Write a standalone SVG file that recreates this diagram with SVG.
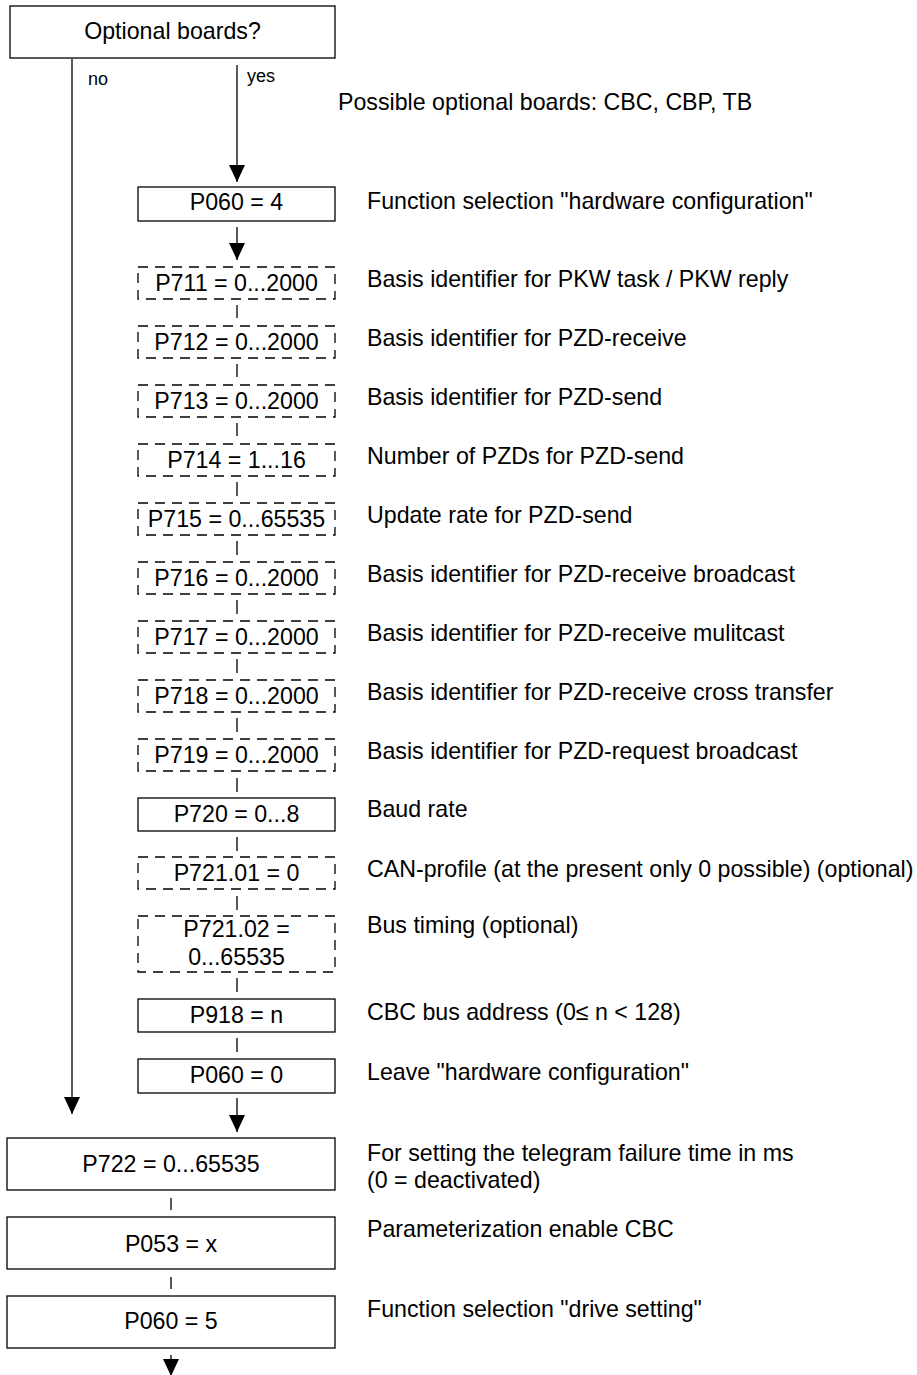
<svg xmlns="http://www.w3.org/2000/svg" width="917" height="1375" viewBox="0 0 917 1375">
<style>
.b{fill:#fff;stroke:#000;stroke-width:1.3}
.d{fill:#fff;stroke:#000;stroke-width:1.3;stroke-dasharray:10 7}
.t{font-family:"Liberation Sans",Arial,sans-serif;font-size:23.2px;fill:#000}
.c{text-anchor:middle}
.s{font-size:18px}
.cn line{stroke:#000;stroke-width:1.3;fill:none}
.ar{marker-end:url(#ah)}
</style>
<defs>
<marker id="ah" markerUnits="userSpaceOnUse" markerWidth="17" markerHeight="16" refX="17" refY="8" orient="auto" viewBox="0 0 17 16">
<path d="M0,0 L17,8 L0,16 Z" fill="#000"/>
</marker>
</defs>
<rect width="917" height="1375" fill="#fff"/>
<g id="connectors" class="cn">
<line class="ar" x1="72" y1="59" x2="72" y2="1114"/>
<line class="ar" x1="237" y1="65" x2="237" y2="182"/>
<line class="ar" x1="237" y1="227" x2="237" y2="260"/>
<line x1="237" y1="305" x2="237" y2="318"/>
<line x1="237" y1="364" x2="237" y2="377"/>
<line x1="237" y1="423" x2="237" y2="436"/>
<line x1="237" y1="482" x2="237" y2="496"/>
<line x1="237" y1="541" x2="237" y2="555"/>
<line x1="237" y1="600" x2="237" y2="614"/>
<line x1="237" y1="659" x2="237" y2="673"/>
<line x1="237" y1="718" x2="237" y2="732"/>
<line x1="237" y1="778" x2="237" y2="792"/>
<line x1="237" y1="837" x2="237" y2="851"/>
<line x1="237" y1="896" x2="237" y2="910"/>
<line x1="237" y1="978" x2="237" y2="992"/>
<line x1="237" y1="1038" x2="237" y2="1052"/>
<line class="ar" x1="237" y1="1098" x2="237" y2="1132"/>
<line x1="171" y1="1198" x2="171" y2="1210"/>
<line x1="171" y1="1277" x2="171" y2="1289"/>
<line class="ar" x1="171" y1="1355" x2="171" y2="1376"/>
</g>
<g id="n_optional">
<rect class="b" x="10" y="6" width="325" height="52"/>
<text class="t c" x="172.5" y="39">Optional boards?</text>
</g>
<g id="labels">
<text class="t s" x="88" y="85">no</text>
<text class="t s" x="247" y="82">yes</text>
<text class="t" x="338" y="110">Possible optional boards: CBC, CBP, TB</text>
</g>
<g id="n_p060_4">
<rect class="b" x="138" y="187" width="197" height="34"/>
<text class="t c" x="236.5" y="210">P060 = 4</text>
<text class="t" x="367" y="209">Function selection "hardware configuration"</text>
</g>
<g id="n_p711">
<rect class="d" x="138" y="267" width="197" height="32"/>
<text class="t c" x="236.5" y="291">P711 = 0...2000</text>
<text class="t" x="367" y="287">Basis identifier for PKW task / PKW reply</text>
</g>
<g id="n_p712">
<rect class="d" x="138" y="326" width="197" height="32"/>
<text class="t c" x="236.5" y="350">P712 = 0...2000</text>
<text class="t" x="367" y="346">Basis identifier for PZD-receive</text>
</g>
<g id="n_p713">
<rect class="d" x="138" y="385" width="197" height="32"/>
<text class="t c" x="236.5" y="409">P713 = 0...2000</text>
<text class="t" x="367" y="405">Basis identifier for PZD-send</text>
</g>
<g id="n_p714">
<rect class="d" x="138" y="444" width="197" height="32"/>
<text class="t c" x="236.5" y="468">P714 = 1...16</text>
<text class="t" x="367" y="464">Number of PZDs for PZD-send</text>
</g>
<g id="n_p715">
<rect class="d" x="138" y="503" width="197" height="32"/>
<text class="t c" x="236.5" y="527">P715 = 0...65535</text>
<text class="t" x="367" y="523">Update rate for PZD-send</text>
</g>
<g id="n_p716">
<rect class="d" x="138" y="562" width="197" height="32"/>
<text class="t c" x="236.5" y="586">P716 = 0...2000</text>
<text class="t" x="367" y="582">Basis identifier for PZD-receive broadcast</text>
</g>
<g id="n_p717">
<rect class="d" x="138" y="621" width="197" height="32"/>
<text class="t c" x="236.5" y="645">P717 = 0...2000</text>
<text class="t" x="367" y="641">Basis identifier for PZD-receive mulitcast</text>
</g>
<g id="n_p718">
<rect class="d" x="138" y="680" width="197" height="32"/>
<text class="t c" x="236.5" y="704">P718 = 0...2000</text>
<text class="t" x="367" y="700">Basis identifier for PZD-receive cross transfer</text>
</g>
<g id="n_p719">
<rect class="d" x="138" y="739" width="197" height="32"/>
<text class="t c" x="236.5" y="763">P719 = 0...2000</text>
<text class="t" x="367" y="759">Basis identifier for PZD-request broadcast</text>
</g>
<g id="n_p720">
<rect class="b" x="138" y="798" width="197" height="33"/>
<text class="t c" x="236.5" y="822">P720 = 0...8</text>
<text class="t" x="367" y="817">Baud rate</text>
</g>
<g id="n_p721_01">
<rect class="d" x="138" y="857" width="197" height="32"/>
<text class="t c" x="236.5" y="881">P721.01 = 0</text>
<text class="t" x="367" y="877">CAN-profile (at the present only 0 possible) (optional)</text>
</g>
<g id="n_p721_02">
<rect class="d" x="138" y="916" width="197" height="56"/>
<text class="t c" x="236.5" y="937">P721.02 =</text>
<text class="t c" x="236.5" y="965">0...65535</text>
<text class="t" x="367" y="933">Bus timing (optional)</text>
</g>
<g id="n_p918">
<rect class="b" x="138" y="999" width="197" height="33"/>
<text class="t c" x="236.5" y="1023">P918 = n</text>
<text class="t" x="367" y="1020">CBC bus address (0≤ n &lt; 128)</text>
</g>
<g id="n_p060_0">
<rect class="b" x="138" y="1059" width="197" height="34"/>
<text class="t c" x="236.5" y="1083">P060 = 0</text>
<text class="t" x="367" y="1080">Leave "hardware configuration"</text>
</g>
<g id="n_p722">
<rect class="b" x="7" y="1138" width="328" height="52"/>
<text class="t c" x="171" y="1172">P722 = 0...65535</text>
<text class="t" x="367" y="1161">For setting the telegram failure time in ms</text>
<text class="t" x="367" y="1188">(0 = deactivated)</text>
</g>
<g id="n_p053">
<rect class="b" x="7" y="1217" width="328" height="52"/>
<text class="t c" x="171" y="1252">P053 = x</text>
<text class="t" x="367" y="1237">Parameterization enable CBC</text>
</g>
<g id="n_p060_5">
<rect class="b" x="7" y="1296" width="328" height="52"/>
<text class="t c" x="171" y="1329">P060 = 5</text>
<text class="t" x="367" y="1317">Function selection "drive setting"</text>
</g>
</svg>
